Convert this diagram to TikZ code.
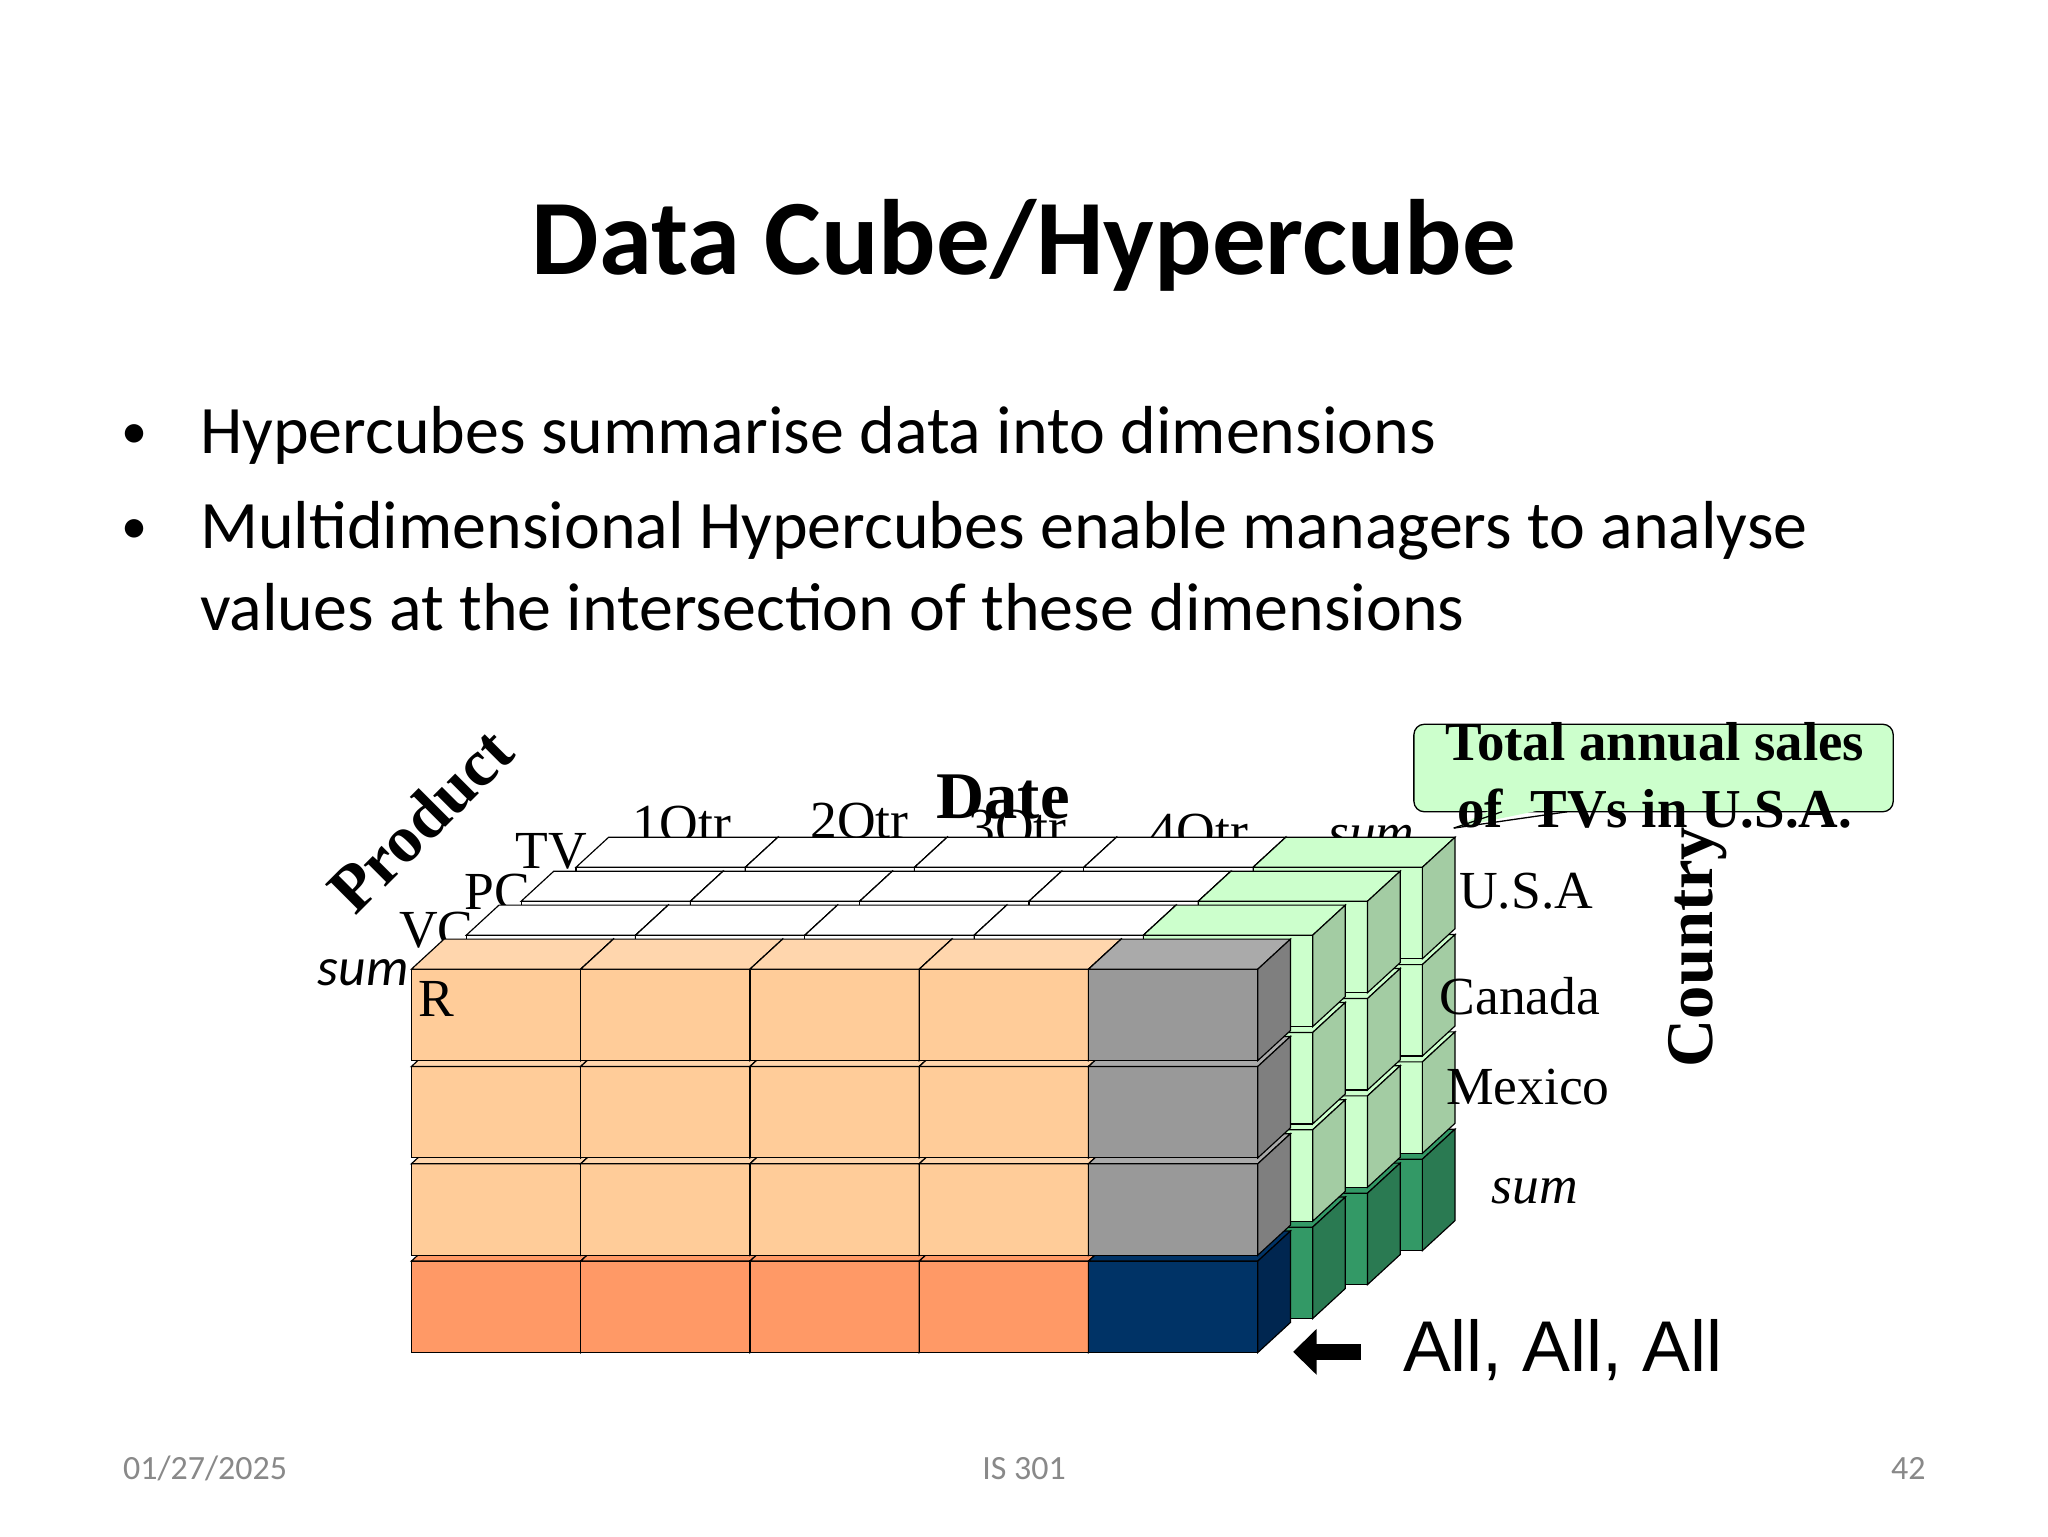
\documentclass[tikz,border=0pt]{standalone}
\usepackage{fontspec}
\usetikzlibrary{arrows.meta}
\setmainfont{Liberation Serif}
\newfontfamily\calib{Carlito}
\newfontfamily\arialf{Liberation Sans}
\definecolor{org}{HTML}{FFCC99}
\definecolor{orgtop}{HTML}{FFD6AD}
\definecolor{orgside}{HTML}{E6B080}
\definecolor{orgdk}{HTML}{FF9966}
\definecolor{gry}{HTML}{999999}
\definecolor{grytop}{HTML}{AAAAAA}
\definecolor{gryside}{HTML}{7F7F7F}
\definecolor{navy}{HTML}{003366}
\definecolor{navyside}{HTML}{002650}
\definecolor{lgr}{HTML}{CCFFCC}
\definecolor{lgrside}{HTML}{A3CCA3}
\definecolor{dgr}{HTML}{339966}
\definecolor{dgrside}{HTML}{2A7A52}
\definecolor{foot}{HTML}{898989}
\newcommand\mycube[7]{%
 \filldraw[fill=#5,draw=black,line width=0.9pt] (#1,#2) rectangle ++(#3,#4);
 \filldraw[fill=#6,draw=black,line width=0.9pt] (#1,#2) -- ++(25,-23) -- ++(#3,0) -- ++(-25,23) -- cycle;
 \filldraw[fill=#7,draw=black,line width=0.9pt] (#1+#3,#2) -- ++(25,-23) -- ++(0,#4) -- ++(-25,23) -- cycle;}
\tikzset{lab/.style={font=\fontsize{41}{43}\selectfont, inner sep=0pt},
 blab/.style={font=\fontsize{51}{53}\selectfont\bfseries, inner sep=0pt}}
\begin{document}
\begin{tikzpicture}[x=1pt,y=-1pt]
\useasboundingbox (0,0) rectangle (1568,1176);
\fill[white] (0,0) rectangle (1568,1176);
\node[font=\calib\fontsize{82}{84}\selectfont\bfseries] (title) at (784,188) {Data Cube/Hypercube};
\node[font=\calib\fontsize{52}{54}\selectfont, anchor=base west, inner sep=0pt] (b1) at (153,347) {Hypercubes summarise data into dimensions};
\node[font=\calib\fontsize{52}{54}\selectfont, anchor=base west, inner sep=0pt] (b2) at (153,420) {Multidimensional Hypercubes enable managers to analyse};
\node[font=\calib\fontsize{52}{54}\selectfont, anchor=base west, inner sep=0pt] (b3) at (153,483) {values at the intersection of these dimensions};
\node[font=\calib\fontsize{40}{42}\selectfont, anchor=base, inner sep=0pt] (d1) at (103,343) {•};
\node[font=\calib\fontsize{40}{42}\selectfont, anchor=base, inner sep=0pt] (d2) at (103,416) {•};
\node[font=\calib\fontsize{26}{28}\selectfont, text=foot] (f1) at (157,1124) {01/27/2025};
\node[font=\calib\fontsize{26}{28}\selectfont, text=foot] (f2) at (784,1124) {IS 301};
\node[font=\calib\fontsize{26}{28}\selectfont, text=foot] (f3) at (1461,1124) {42};
% labels behind cube
\node[lab] (q1) at (522,634) {1Qtr};
\node[lab] (q2) at (658,632) {2Qtr};
\node[lab] (q3) at (779,637) {3Qtr};
\node[lab] (q4) at (918,640) {4Qtr};
\node[lab,font=\fontsize{41}{43}\selectfont\itshape] (qs) at (1050,642) {sum};
\node[blab] (date) at (768,610) {Date};
\node[blab,rotate=45] (prod) at (322,628) {Product};
\node[lab] (tv) at (422,652) {TV};
\node[lab] (pc) at (381,683) {PC};
\node[lab] (vc) at (334,712) {VC};
\node[font=\calib\fontsize{41}{43}\selectfont\itshape, inner sep=0pt] (ps) at (278,745) {sum};
% back layers
\foreach \z in {3,2,1}{
 \foreach \c in {0,...,4}{
  \foreach \r in {3,2,1,0}{
   \pgfmathsetmacro\xx{315+129.6*\c+42*\z}
   \pgfmathsetmacro\yy{742+74.5*\r-26*\z}
   \ifnum\c<4
     \mycube{\xx}{\yy}{129.6}{70}{white}{white}{white}
   \else
     \ifnum\r=3
       \mycube{\xx}{\yy}{129.6}{70}{dgr}{dgr}{dgrside}
     \else
       \mycube{\xx}{\yy}{129.6}{70}{lgr}{lgr}{lgrside}
     \fi
   \fi
  }}}
% front layer
\foreach \c in {0,...,4}{
  \foreach \r in {3,2,1,0}{
   \pgfmathsetmacro\xx{315+129.6*\c}
   \pgfmathsetmacro\yy{742+74.5*\r}
   \ifnum\c<4
     \ifnum\r=3
       \mycube{\xx}{\yy}{129.6}{70}{orgdk}{orgdk}{orgside}
     \else
       \mycube{\xx}{\yy}{129.6}{70}{org}{orgtop}{orgside}
     \fi
   \else
     \ifnum\r=3
       \mycube{\xx}{\yy}{129.6}{70}{navy}{navy}{navyside}
     \else
       \mycube{\xx}{\yy}{129.6}{70}{gry}{grytop}{gryside}
     \fi
   \fi
  }}
\node[lab] (rl) at (334,765) {R};
\node[lab,anchor=west] (usa) at (1117,682) {U.S.A};
\node[lab,anchor=west] (can) at (1102,763) {Canada};
\node[lab,anchor=west] (mex) at (1107,832) {Mexico};
\node[lab,font=\fontsize{41}{43}\selectfont\itshape] (csum) at (1175,912) {sum};
\node[blab,rotate=90] (ctry) at (1300,725) {Country};
\coordinate (tip) at (1113,634);
\node[draw=black, fill=lgr, rounded corners=8pt, line width=1pt, minimum width=367pt, minimum height=67pt] (call) at (1266,588) {};
\fill[lgr] (tip) -- (1150,616) -- (1200,616) -- cycle;
\draw[line width=1pt] (tip) -- (1150,621.5);
\draw[line width=1pt] (tip) -- (1200,621.5);
\node[font=\fontsize{42}{44}\selectfont\bfseries, inner sep=0pt] (c1) at (1267,568) {Total annual sales};
\node[font=\fontsize{42}{44}\selectfont\bfseries, inner sep=0pt] (c2) at (1267,619) {of~ TVs in U.S.A.};
\coordinate (as) at (1042,1035);
\coordinate (ae) at (990,1035);
\draw[line width=12pt, -{Triangle[length=18pt,width=34pt]}] (as) -- (ae);
\node[font=\arialf\fontsize{55}{57}\selectfont, anchor=west, inner sep=0pt] (all) at (1074,1034) {All, All, All};
\end{tikzpicture}
\end{document}
